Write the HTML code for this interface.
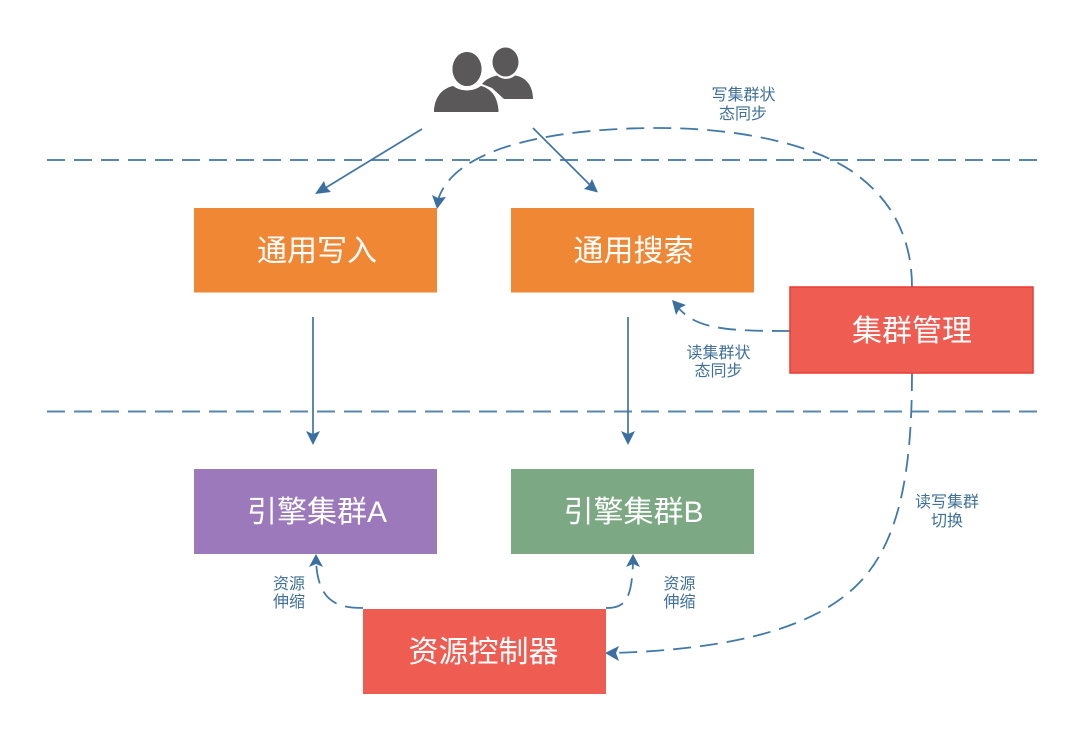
<!DOCTYPE html>
<html>
<head>
<meta charset="utf-8">
<style>
html,body{margin:0;padding:0;background:#fff;width:1080px;height:745px;overflow:hidden}
svg{display:block}
.big{font-family:"Liberation Sans","Noto Sans CJK SC",sans-serif;font-size:30px;fill:#fff;text-anchor:middle;font-weight:400}
.sm{font-family:"Liberation Sans","Noto Sans CJK SC",sans-serif;font-size:16px;fill:#3f7099;text-anchor:middle}
.d{fill:none;stroke:#4179a8;stroke-width:1.8;stroke-dasharray:18 9}
.s{fill:none;stroke:#3f75a4;stroke-width:1.7}
.a{fill:#3a6f9f}
</style>
</head>
<body>
<svg width="1080" height="745" viewBox="0 0 1080 745" xmlns="http://www.w3.org/2000/svg">
<rect width="1080" height="745" fill="#fff"/>
<!-- horizontal dashed -->
<line x1="47" y1="160" x2="1039" y2="160" class="d" style="stroke:#5a87ad;stroke-width:2"/>
<line x1="47" y1="411.500" x2="1039" y2="411.500" class="d" style="stroke:#5a87ad;stroke-width:2"/>
<!-- people -->
<g fill="#5a5859">
<ellipse cx="505.500" cy="62" rx="13" ry="14.500"/>
<path d="M482 84 C486 79 491 77 497 75.500 C502 80 510 80 515 75.500 C526 77 533 86 533 99 L504 99 L492 88Z"/>
<path d="M434 112 C434.500 98 441 89 453 86 C461 92 473 92 481 86 C492 89 498 98 498.500 112Z" stroke="#fff" stroke-width="3" paint-order="stroke"/>
<ellipse cx="467" cy="69" rx="14.500" ry="17" stroke="#fff" stroke-width="3" paint-order="stroke"/>
<path d="M434 112 C434.500 98 441 89 453 86 C461 92 473 92 481 86 C492 89 498 98 498.500 112Z"/>
<ellipse cx="467" cy="69" rx="14.500" ry="17"/>
</g>
<!-- solid arrows -->
<line x1="422" y1="129" x2="322" y2="190" class="s"/>
<polygon class="a" points="315,194 324,181 326,187 331,192" />
<line x1="533" y1="128" x2="591" y2="186" class="s"/>
<polygon class="a" points="598,192.500 584,189 589,185 592,179"/>
<line x1="313" y1="317" x2="313" y2="438" class="s"/>
<polygon class="a" points="313,445 306,431 313,434 320,431"/>
<line x1="628" y1="317" x2="628" y2="438" class="s"/>
<polygon class="a" points="628,445 621,431 628,434 635,431"/>
<!-- dashed curves -->
<path class="d" d="M912 287 C912 225 880 190 850 170 C800 138 720 128 660 128 C560 128 455 145 438 200"/>
<polygon class="a" points="437,209 432,195 438,198 446,197"/>
<path class="d" d="M912 373 C912 470 900 540 860 582 C810 635 710 650 612 653"/>
<polygon class="a" points="605,653 619,646 616,653 619,661"/>
<path class="d" d="M790 331 C730 331 695 330 677 306"/>
<polygon class="a" points="672,300 686,305 680,308 676,315"/>
<path class="d" d="M363 608 C335 608 318 600 316 561"/>
<polygon class="a" points="316,554 309,567 316,564 323,567"/>
<path class="d" d="M606 608 C625 608 632 600 633 561"/>
<polygon class="a" points="633,554 626,567 633,564 640,567"/>
<!-- boxes -->
<rect x="194" y="208" width="243" height="84.500" fill="#f08735"/>
<rect x="511" y="208" width="243" height="84.500" fill="#f08735"/>
<rect x="790" y="287" width="243" height="86" fill="#ef5c51" stroke="#ea3c30" stroke-width="1.500"/>
<rect x="194" y="469" width="243" height="85" fill="#9b79ba"/>
<rect x="511" y="469" width="243" height="85" fill="#7da884"/>
<rect x="363" y="609" width="243" height="85" fill="#ef5c51"/>
<!-- big labels -->
<text class="big" x="317" y="261">通用写入</text>
<text class="big" x="633.500" y="261">通用搜索</text>
<text class="big" x="912" y="341">集群管理</text>
<text class="big" x="317" y="522">引擎集群A</text>
<text class="big" x="633.500" y="522">引擎集群B</text>
<text class="big" x="483.500" y="662">资源控制器</text>
<!-- small labels -->
<text class="sm" x="743.500" y="100">写集群状</text>
<text class="sm" x="743" y="119">态同步</text>
<text class="sm" x="718.500" y="358">读集群状</text>
<text class="sm" x="718.500" y="376">态同步</text>
<text class="sm" x="947" y="507">读写集群</text>
<text class="sm" x="947" y="526">切换</text>
<text class="sm" x="289" y="589">资源</text>
<text class="sm" x="289" y="607">伸缩</text>
<text class="sm" x="679.500" y="589">资源</text>
<text class="sm" x="679.500" y="607">伸缩</text>
</svg>
</body>
</html>
